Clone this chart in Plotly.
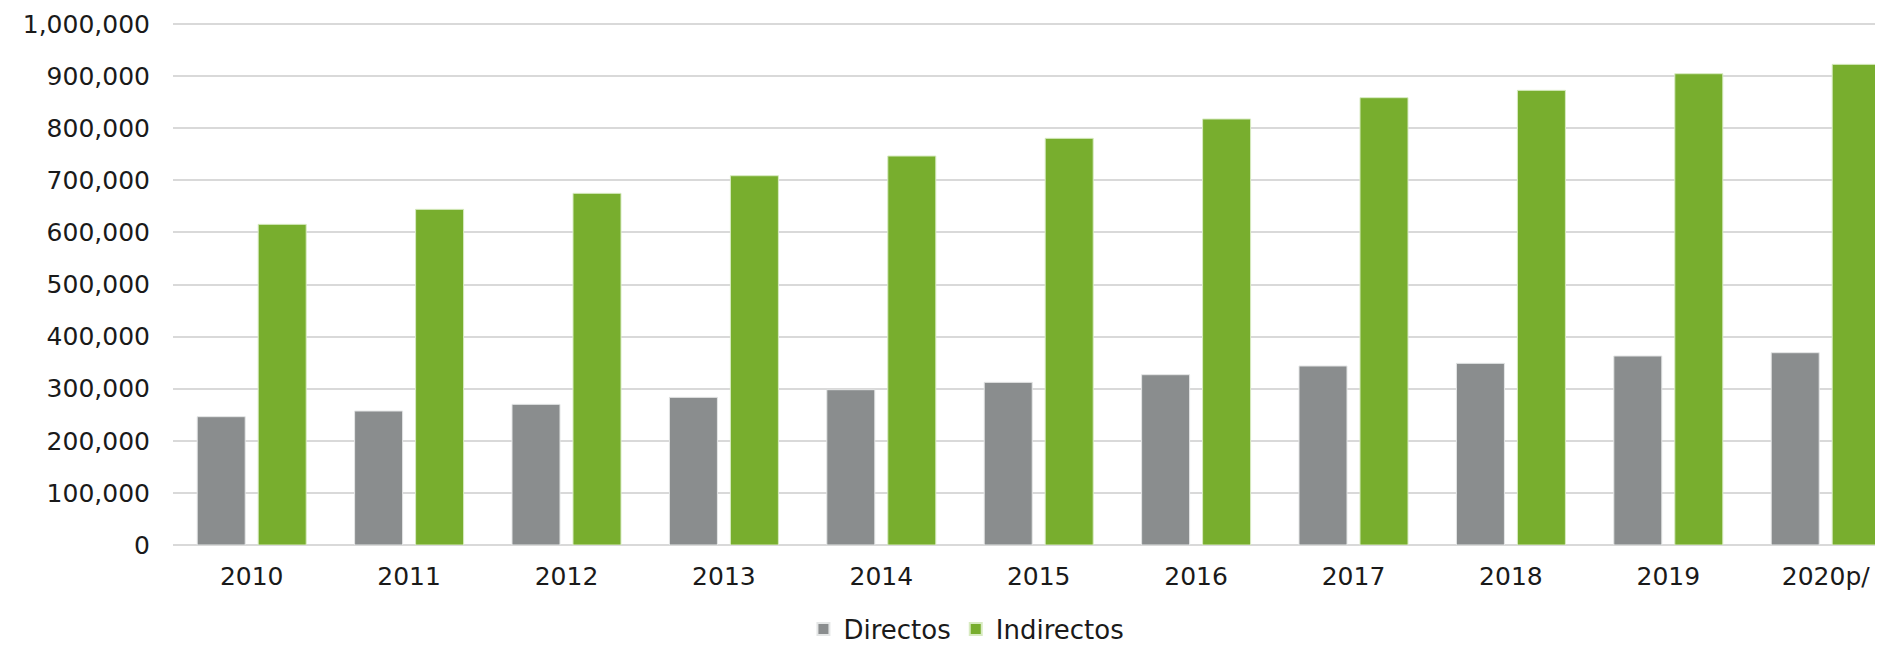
import plotly.graph_objects as go

years = ["2010", "2011", "2012", "2013", "2014", "2015", "2016", "2017", "2018", "2019", "2020p/"]
directos = [246300, 257200, 270000, 283400, 298100, 312200, 326900, 343600, 348700, 362800, 369100]
indirectos = [615500, 644300, 675000, 708800, 746600, 780600, 817700, 858600, 872700, 904600, 922600]
y_ticks = [0, 100000, 200000, 300000, 400000, 500000, 600000, 700000, 800000, 900000, 1000000]

FONT = "DejaVu Sans"
GRAY = "#8a8d8e"
GREEN = "#78ae2e"
GRID = "#d9d9d9"
TXT = "#1a1a1a"

fig = go.Figure()
fig.add_trace(go.Bar(
    name="Directos", x=years, y=directos,
    marker=dict(color=GRAY, line=dict(color="#e4e6e6", width=1)),
))
fig.add_trace(go.Bar(
    name="Indirectos", x=years, y=indirectos,
    marker=dict(color=GREEN, line=dict(color="#d8ebc2", width=1)),
))

# page body has an 8px margin, so the figure is sized 8px smaller
fig.update_layout(
    width=1875, height=637,
    margin=dict(l=165, r=0, t=12, b=100, autoexpand=False),
    paper_bgcolor="white", plot_bgcolor="white",
    barmode="group", bargap=0.225, bargroupgap=0.213,
    font=dict(family=FONT, size=25, color=TXT),
    showlegend=True,
    legend=dict(
        orientation="h", x=0.464, xanchor="center", y=-0.16, yanchor="middle",
        font=dict(family=FONT, size=26, color=TXT),
        itemsizing="constant", traceorder="normal", itemwidth=30,
        tracegroupgap=0,
    ),
    xaxis=dict(
        type="category", range=[-0.5, 10.364], automargin=False,
        showgrid=False, showline=False, ticks="",
        ticklabelstandoff=14,
        tickfont=dict(family=FONT, size=25, color=TXT),
    ),
    yaxis=dict(
        range=[0, 1007700], tickvals=y_ticks, automargin=False,
        ticktext=[f"{v:,}" for v in y_ticks],
        showgrid=True, gridcolor=GRID, gridwidth=2,
        zeroline=True, zerolinecolor=GRID, zerolinewidth=2,
        showline=False, ticks="",
        ticklabelstandoff=22,
        tickfont=dict(family=FONT, size=25, color=TXT),
    ),
)

fig.write_html("out.html")
